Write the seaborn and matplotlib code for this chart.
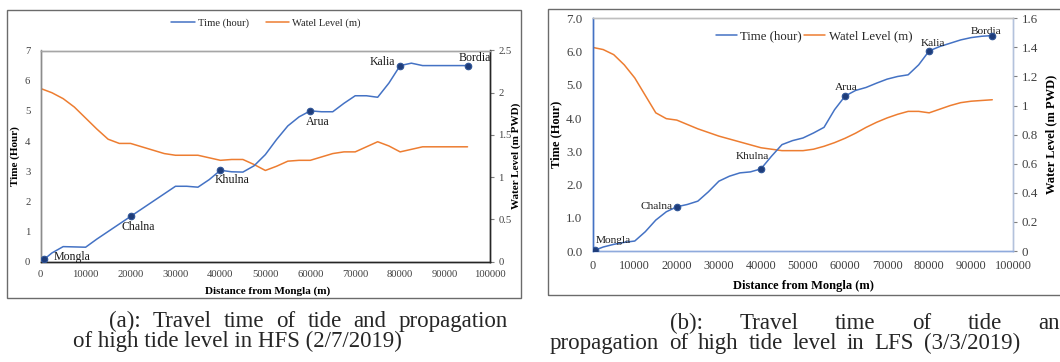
import numpy as np
import pandas as pd
import matplotlib
matplotlib.use("Agg")
import matplotlib.pyplot as plt
from matplotlib.patches import Rectangle
from matplotlib.ticker import FuncFormatter, MultipleLocator
import seaborn as sns

# ---------------- data ----------------
stations = ["Mongla", "Chalna", "Khulna", "Arua", "Kalia", "Bordia"]

# (a) HFS 2/7/2019
time_dist_a = [770, 2500, 5000, 7500, 10000, 12500, 15000, 17500, 20000, 22500,
               25000, 27500, 30000, 32500, 35000, 37500, 40000, 42500, 45000, 47500,
               50000, 52500, 55000, 57500, 60000, 62500, 65000, 67500, 70000, 72500,
               75000, 77500, 80000, 82500, 85000, 87500, 90000, 92500, 95000]
time_a = [0.08, 0.29, 0.50, 0.49, 0.48, 0.75, 1.00, 1.25, 1.50, 1.75,
          2.00, 2.25, 2.50, 2.50, 2.47, 2.72, 3.03, 2.98, 2.97, 3.18,
          3.55, 4.05, 4.50, 4.80, 5.00, 4.97, 4.97, 5.25, 5.50, 5.50,
          5.45, 5.92, 6.50, 6.58, 6.50, 6.50, 6.50, 6.50, 6.50]
level_dist_a = [0, 2500, 5000, 7500, 10000, 12500, 15000, 17500, 20000, 22500,
                25000, 27500, 30000, 32500, 35000, 37500, 40000, 42500, 45000, 47500,
                50000, 52500, 55000, 57500, 60000, 62500, 65000, 67500, 70000, 72500,
                75000, 77500, 80000, 82500, 85000, 87500, 90000, 92500, 95000]
level_a = [2.05, 2.00, 1.93, 1.83, 1.70, 1.57, 1.45, 1.40, 1.40, 1.36,
           1.32, 1.28, 1.26, 1.26, 1.26, 1.23, 1.20, 1.21, 1.21, 1.15,
           1.08, 1.13, 1.19, 1.20, 1.20, 1.24, 1.28, 1.30, 1.30, 1.36,
           1.42, 1.37, 1.30, 1.33, 1.36, 1.36, 1.36, 1.36, 1.36]
station_dist_a = [770, 20000, 40000, 60000, 80000, 95000]
station_time_a = [0.08, 1.50, 3.03, 5.00, 6.50, 6.50]

# (b) LFS 3/3/2019
time_dist_b = [620, 2500, 5000, 7500, 10000, 12500, 15000, 17500, 20000, 22500,
               25000, 27500, 30000, 32500, 35000, 37500, 40000, 42500, 45000, 47500,
               50000, 52500, 55000, 57500, 60000, 62500, 65000, 67500, 70000, 72500,
               75000, 77500, 80000, 82500, 85000, 87500, 90000, 92500, 95000]
time_b = [0.03, 0.12, 0.20, 0.26, 0.30, 0.58, 0.93, 1.18, 1.33, 1.40,
          1.50, 1.78, 2.10, 2.25, 2.35, 2.38, 2.47, 2.85, 3.20, 3.32,
          3.40, 3.55, 3.72, 4.25, 4.66, 4.83, 4.92, 5.05, 5.17, 5.25,
          5.30, 5.60, 6.02, 6.15, 6.25, 6.35, 6.42, 6.46, 6.48]
level_dist_b = [0, 2500, 5000, 7500, 10000, 12500, 15000, 17500, 20000, 22500,
                25000, 27500, 30000, 32500, 35000, 37500, 40000, 42500, 45000, 47500,
                50000, 52500, 55000, 57500, 60000, 62500, 65000, 67500, 70000, 72500,
                75000, 77500, 80000, 82500, 85000, 87500, 90000, 92500, 95000]
level_b = [1.40, 1.385, 1.35, 1.28, 1.19, 1.07, 0.95, 0.91, 0.90, 0.87,
           0.84, 0.815, 0.79, 0.77, 0.75, 0.73, 0.71, 0.70, 0.69, 0.69,
           0.69, 0.70, 0.72, 0.745, 0.775, 0.81, 0.85, 0.885, 0.915, 0.94,
           0.96, 0.96, 0.95, 0.975, 1.00, 1.02, 1.03, 1.035, 1.04]
station_dist_b = [620, 20000, 40000, 60000, 80000, 95000]
station_time_b = [0.03, 1.33, 2.47, 4.66, 6.02, 6.48]

series_time = "Time (hour)"
series_level = "Watel Level (m)"
xlabel = "Distance from Mongla (m)"
ylabel_left = "Time (Hour)"
ylabel_right = "Water Level (m PWD)"
caption_a1 = "(a): Travel time of tide and propagation"
caption_a2 = "of high tide level in HFS (2/7/2019)"
caption_b1 = "(b): Travel time of tide and"
caption_b2 = "propagation of high tide level in LFS (3/3/2019)"

# ---------------- style ----------------
sns.set_style("white")
plt.rcParams["font.family"] = ["Liberation Serif", "DejaVu Serif"]
plt.rcParams["axes.unicode_minus"] = False

BLUE = "#4472C4"
ORANGE = "#ED7D31"
MK_FACE = "#1F3D7A"
MK_EDGE = "#2F5597"
TICK_C = "#404040"

W, H = 1060, 362
fig = plt.figure(figsize=(W / 100, H / 100), dpi=100)


def fbox(x0, y0, x1, y1):
    return [x0 / W, 1 - y1 / H, (x1 - x0) / W, (y1 - y0) / H]


# panel borders
for (x0, y0, x1, y1) in [(7, 10, 521, 298), (548, 9, 1075, 295)]:
    fig.patches.append(Rectangle((x0 / W, 1 - y1 / H), (x1 - x0) / W, (y1 - y0) / H,
                                 transform=fig.transFigure, fill=False,
                                 edgecolor="#6b6b6b", linewidth=1.0))


def draw_panel(box, tdist, tvals, ldist, lvals, sdist, stime, ylim2, y2step,
               xtfs, ytfs, lfs, afs, offsets, ytick_fmt, spine_cols, label_pos,
               legend_cfg):
    ax = fig.add_axes(fbox(*box))
    ax2 = ax.twinx()
    dft = pd.DataFrame({"d": tdist, "v": tvals})
    dfl = pd.DataFrame({"d": ldist, "v": lvals})
    dfs = pd.DataFrame({"d": sdist, "v": stime, "name": stations})
    sns.lineplot(data=dfl, x="d", y="v", ax=ax2, color=ORANGE, linewidth=1.1,
                 label=series_level, sort=False)
    sns.lineplot(data=dft, x="d", y="v", ax=ax, color=BLUE, linewidth=1.1,
                 label=series_time, sort=False, zorder=3)
    sns.scatterplot(data=dfs, x="d", y="v", ax=ax, color=MK_FACE, edgecolor=MK_EDGE,
                    linewidth=0.8, s=22, zorder=4, legend=False)
    ax.set_zorder(ax2.get_zorder() + 1)
    ax.patch.set_visible(False)
    for (name, xv, yv), (dx, dy, ha) in zip(zip(stations, sdist, stime), offsets):
        ax.annotate(name, (xv, yv), xytext=(dx, dy), textcoords="offset pixels",
                    ha=ha, va="center", fontsize=afs, color="#1a1a1a")
    ax.set_xlim(0, 100000)
    ax.set_ylim(0, 7)
    ax2.set_ylim(0, ylim2)
    ax.xaxis.set_major_locator(MultipleLocator(10000))
    ax.yaxis.set_major_locator(MultipleLocator(1))
    ax2.yaxis.set_major_locator(MultipleLocator(y2step))
    ax.yaxis.set_major_formatter(FuncFormatter(ytick_fmt))
    ax2.yaxis.set_major_formatter(FuncFormatter(lambda v, p: f"{v:g}"))
    ax.xaxis.set_major_formatter(FuncFormatter(lambda v, p: f"{int(v)}"))
    ax.tick_params(axis="x", length=0, pad=xtfs * 0.75, labelsize=xtfs, colors=TICK_C)
    ax.tick_params(axis="y", length=0, pad=7.5, labelsize=ytfs, colors=TICK_C)
    ax2.tick_params(axis="y", length=3, width=0.8, pad=3, labelsize=ytfs,
                    colors=TICK_C, color="#7f7f7f")
    ax.grid(False)
    ax2.grid(False)
    top_c, left_c, bottom_c, right_c = spine_cols
    for a in (ax, ax2):
        a.spines["top"].set_color(top_c)
        a.spines["left"].set_color(left_c)
        a.spines["bottom"].set_color(bottom_c)
        a.spines["right"].set_color(right_c)
        for s in a.spines.values():
            s.set_linewidth(1.0)
    ax.set_xlabel(xlabel, fontsize=lfs, fontweight="bold", color="black")
    ax.set_ylabel(ylabel_left, fontsize=lfs, fontweight="bold", color="black")
    ax2.set_ylabel(ylabel_right, fontsize=lfs, fontweight="bold", color="black",
                   rotation=90)
    (xlx, xly), (ylx, yly), (y2x, y2y) = label_pos
    ax.xaxis.set_label_coords(xlx, xly)
    ax.xaxis.label.set_va("center")
    ax.yaxis.set_label_coords(ylx, yly)
    ax.yaxis.label.set_va("center")
    ax.yaxis.label.set_ha("center")
    ax2.yaxis.set_label_coords(y2x, y2y)
    ax2.yaxis.label.set_va("center")
    ax2.yaxis.label.set_ha("center")
    h1, l1 = ax.get_legend_handles_labels()
    h2, l2 = ax2.get_legend_handles_labels()
    for a in (ax, ax2):
        if a.get_legend() is not None:
            a.get_legend().remove()
    cx, cy, fs, hl, cs = legend_cfg
    fig.legend(h1 + h2, l1 + l2, loc="center", bbox_to_anchor=(cx / W, 1 - cy / H),
               ncol=2, frameon=False, fontsize=fs, handlelength=hl,
               handletextpad=0.3, columnspacing=cs, borderaxespad=0, borderpad=0)
    return ax, ax2


# ---------- panel (a) ----------
draw_panel((40.7, 50.5, 490, 261.7), time_dist_a, time_a, level_dist_a, level_a,
           station_dist_a, station_time_a, 2.5, 0.5,
           xtfs=7.7, ytfs=7.7, lfs=8.0, afs=8.6,
           offsets=[(9, 2, "left"), (8, -11, "center"), (12, -10, "center"),
                    (7, -11, "center"), (-18, 4, "center"), (7, 8, "center")],
           ytick_fmt=lambda v, p: f"{int(v)}",
           spine_cols=("#a6a6a6", "#8c8c8c", "#262626", "#262626"),
           label_pos=((0.506, -0.138), (-0.056, 0.5), (1.058, 0.5)),
           legend_cfg=(266, 23.5, 7.6, 2.2, 1.6))

# ---------- panel (b) ----------
draw_panel((592.7, 18.3, 1013.3, 251), time_dist_b, time_b, level_dist_b, level_b,
           station_dist_b, station_time_b, 1.6, 0.2,
           xtfs=8.8, ytfs=9.4, lfs=9.0, afs=8.2,
           offsets=[(18, 10, "center"), (-20, 0, "center"), (-9, 12, "center"),
                    (1, 9, "center"), (4, 7, "center"), (-6, 4, "center")],
           ytick_fmt=lambda v, p: f"{v:.1f}",
           spine_cols=("#bfbfbf", BLUE, "#8faadc", "#b4c2dc"),
           label_pos=((0.5007, -0.149), (-0.087, 0.5), (1.091, 0.5)),
           legend_cfg=(814, 36, 9.2, 1.65, 0.15))

# ---------- captions (justified lines) ----------
CFS = 16.5
renderer = fig.canvas.get_renderer()


def justified(text, x0, x1, ybase):
    words = text.split(" ")
    objs = [fig.text(0, 1 - ybase / H, w, fontsize=CFS, ha="left", va="baseline")
            for w in words]
    widths = [o.get_window_extent(renderer).width for o in objs]
    gap = (x1 - x0 - sum(widths)) / max(len(words) - 1, 1)
    x = x0
    for o, w in zip(objs, widths):
        o.set_x(x / W)
        x += w + gap


justified(caption_a1, 109, 508, 327)
fig.text(73 / W, 1 - 347 / H, caption_a2, fontsize=CFS, ha="left", va="baseline")
justified(caption_b1, 670, 1071, 329)
justified(caption_b2, 550, 1020, 349)

fig.savefig("out.png", dpi=100)
